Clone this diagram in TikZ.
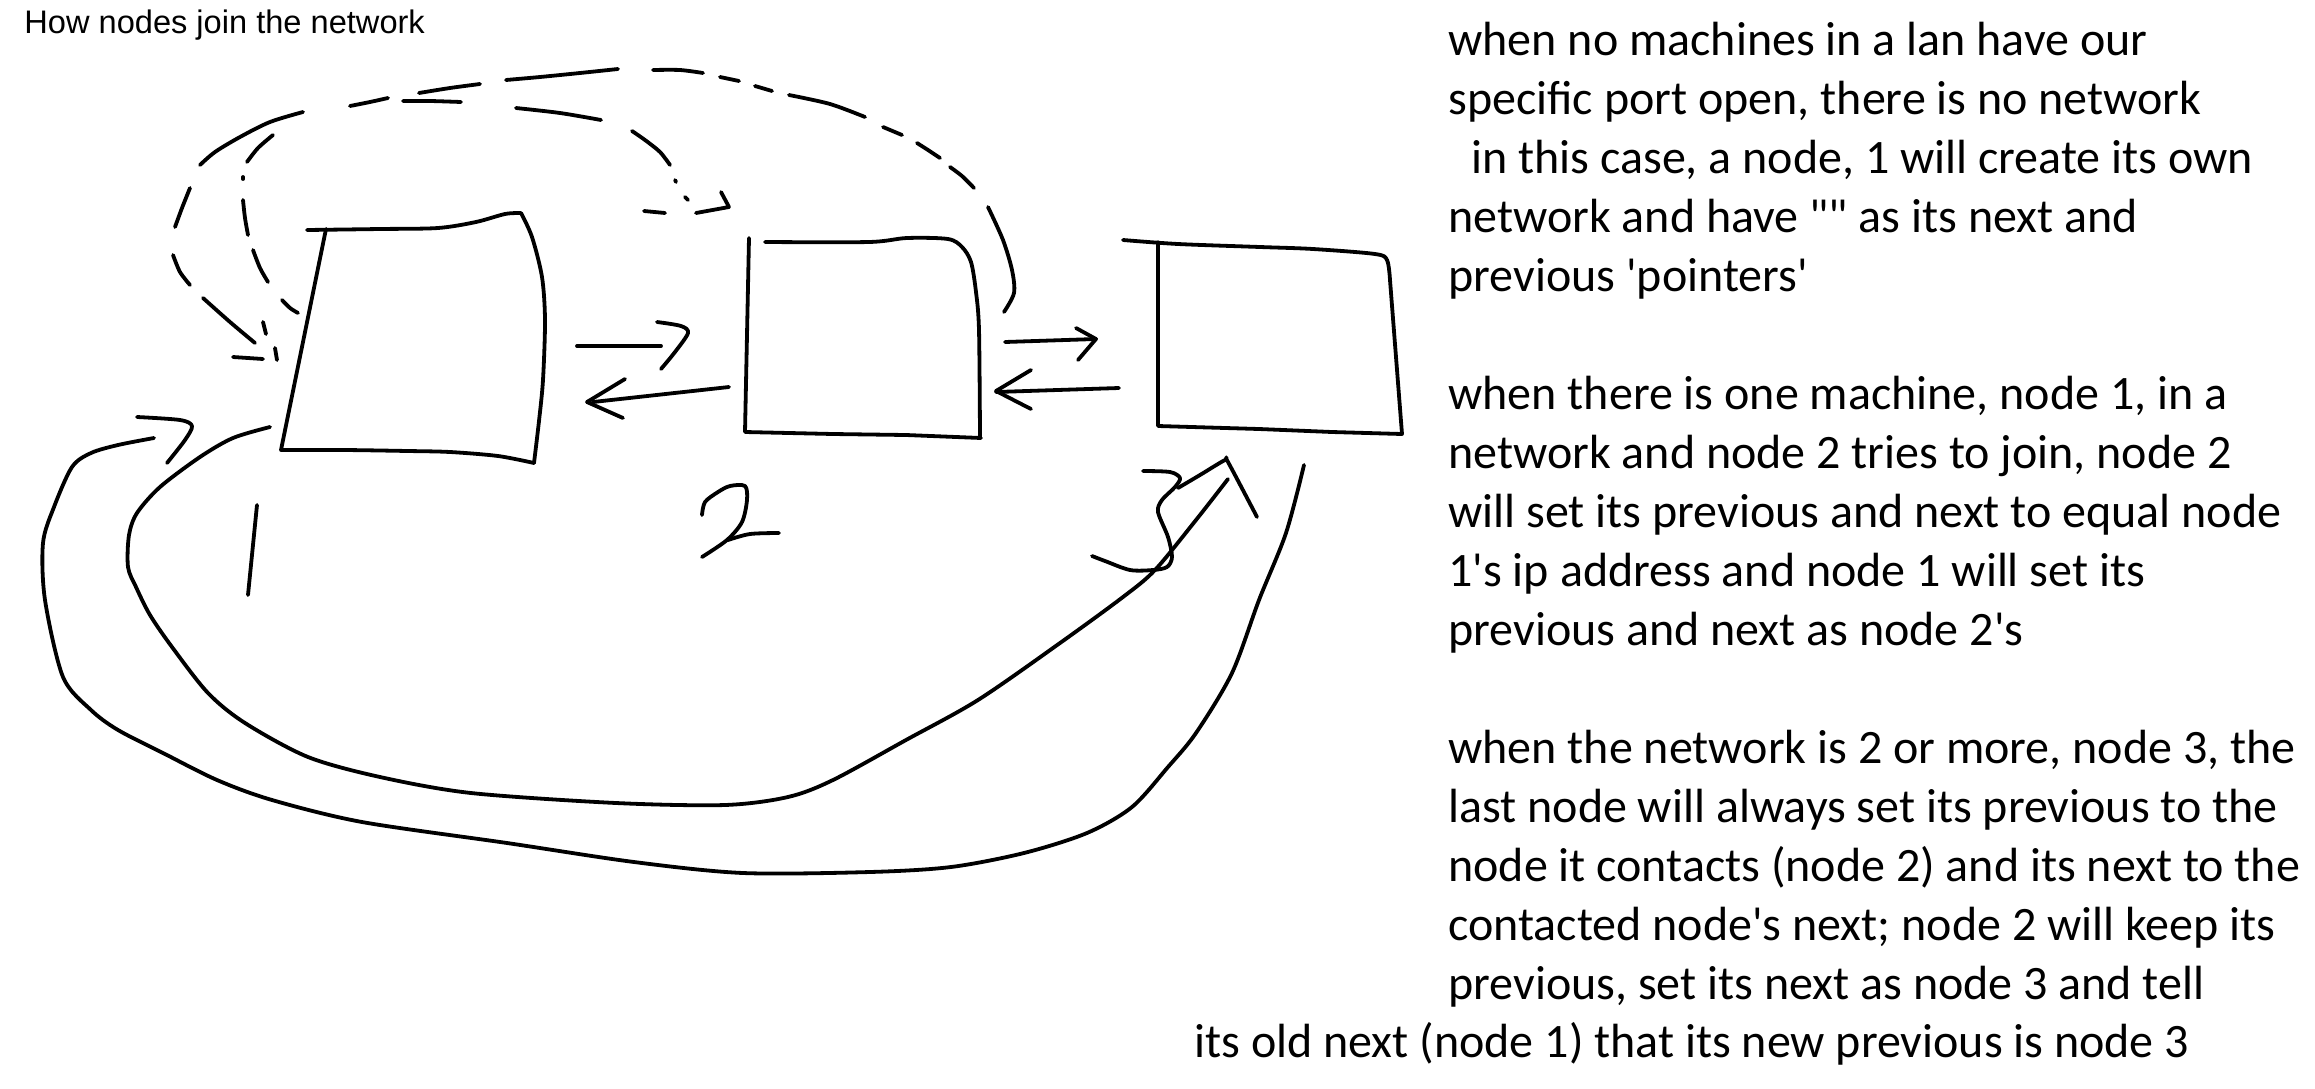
\documentclass[tikz,border=0pt]{standalone}
\usepackage{fontspec}
\newfontfamily\txtfont{Carlito}
\newfontfamily\titlefont{Liberation Sans}
\begin{document}
\begin{tikzpicture}[x=0.5pt,y=-0.5pt,line cap=round,line join=round,
  ink/.style={line width=1.9pt,black},
  txt/.style={anchor=base west,inner sep=0pt,font=\txtfont\fontsize{24}{29.5}\selectfont},
  ttl/.style={anchor=base west,inner sep=0pt,font=\titlefont\fontsize{16.3}{19}\selectfont},
  sm/.style={smooth,tension=.5}]
\useasboundingbox (0,0) rectangle (2315,1088);
\fill[white] (0,0) rectangle (2315,1088);

% title
\node[ttl] (title) at (24,33) {How nodes join the network};

% right-hand text
\node[txt] (l1) at (1448,55) {when no machines in a lan have our};
\node[txt] (l2) at (1448,114) {specific port open, there is no network};
\node[txt] (l3) at (1471,173) {in this case, a node, 1 will create its own};
\node[txt] (l4) at (1448,232) {network and have "" as its next and};
\node[txt] (l5) at (1448,291) {previous \textquotesingle pointers\textquotesingle};
\node[txt] (l6) at (1448,409) {when there is one machine, node 1, in a};
\node[txt] (l7) at (1448,468) {network and node 2 tries to join, node 2};
\node[txt] (l8) at (1448,527) {will set its previous and next to equal node};
\node[txt] (l9) at (1448,586) {1\textquotesingle s ip address and node 1 will set its};
\node[txt] (l10) at (1448,645) {previous and next as node 2\textquotesingle s};
\node[txt] (l11) at (1448,763) {when the network is 2 or more, node 3, the};
\node[txt] (l12) at (1448,822) {last node will always set its previous to the};
\node[txt] (l13) at (1448,881) {node it contacts (node 2) and its next to the};
\node[txt] (l14) at (1448,940) {contacted node\textquotesingle s next; node 2 will keep its};
\node[txt] (l15) at (1448,999) {previous, set its next as node 3 and tell};
\node[txt] (l16) at (1194,1057) {its old next (node 1) that its new previous is node 3};

% ---- boxes (hand drawn) ----
% box 1
\draw[ink] plot[sm] coordinates {(307,230) (380,229) (438,228) (476,222) (505,214) (521,213)};
\draw[ink] plot[sm] coordinates {(521,213) (532,237) (542,277) (545,320) (543,380) (539,421) (534,463)};
\draw[ink] plot[sm] coordinates {(534,463) (498,456) (450,452) (408,451) (344,450) (281,450)} -- (326,229);
% box 2
\draw[ink] (749,238) -- (745,432) -- (833,434) -- (906,435) -- (981,438);
\draw[ink] plot[sm] coordinates {(765,242) (869,242) (907,238) (948,239) (962,247) (971,262) (976,292) (979,330) (980,437)};
% box 3
\draw[ink] plot[sm] coordinates {(1123,240) (1178,244) (1260,247) (1313,249) (1375,254) (1387,260) (1390,280)} -- (1402,434) -- (1332,432) -- (1259,429) -- (1158,426) -- (1158,242);

% ---- connector end points ----
\coordinate (a12s) at (577,346); \coordinate (a12e) at (661,346);
\coordinate (a21s) at (729,387); \coordinate (a21e) at (593,402);
\coordinate (a23s) at (1005,342); \coordinate (a23e) at (1096,339);
\coordinate (a32s) at (1119,388); \coordinate (a32e) at (996,392);
\coordinate (dA2) at (1004,312); \coordinate (dA1) at (255,343);
\coordinate (dB1) at (298,313); \coordinate (dB2) at (688,200);
\coordinate (cC3) at (1304,465); \coordinate (cC1) at (154,438);
\coordinate (cD1) at (270,427); \coordinate (cD3) at (1228,479);

% ---- arrows between boxes ----
\draw[ink] (a12s) -- (a12e);
\draw[ink] plot[sm] coordinates {(657,322) (681,326) (688,333) (675,352) (661,369)};
\draw[ink] (a21s) -- (a21e);
\draw[ink] (625,379) -- (587,402) -- (623,418);
\draw[ink] (a23s) -- (a23e);
\draw[ink] (1076,328) -- (1096,339) -- (1078,360);
\draw[ink] (a32s) -- (a32e);
\draw[ink] (1031,370) -- (996,391) -- (1031,409);

% ---- dashed arc A: box 2 -> box 1 (outer) ----
\draw[ink] plot[sm] coordinates {(988,207) (1003,240) (1012,270) (1014,293) (dA2)};
\draw[ink] plot[sm] coordinates {(974,188) (962,176) (950,167)};
\draw[ink] plot[sm] coordinates {(940,158) (928,150) (917,143)};
\draw[ink] (902,135) -- (883,127);
\draw[ink] plot[sm] coordinates {(865,117) (830,104) (789,95)};
\draw[ink] (772,91) -- (755,86);
\draw[ink] (739,81) -- (720,77);
\draw[ink] plot[sm] coordinates {(703,73) (680,70) (653,70)};
\draw[ink] plot[sm] coordinates {(618,69) (580,73) (540,77) (506,80)};
\draw[ink] plot[sm] coordinates {(480,84) (450,88) (419,93)};
\draw[ink] plot[sm] coordinates {(388,98) (370,102) (350,106)};
\draw[ink] plot[sm] coordinates {(303,112) (270,122) (240,137) (215,152) (200,165)};
\draw[ink] plot[sm] coordinates {(190,188) (182,208) (175,227)};
\draw[ink] plot[sm] coordinates {(173,255) (180,272) (190,285)};
\draw[ink] plot[sm] coordinates {(203,298) (230,322) (dA1)};
\draw[ink] (263,322) -- (266,334);
\draw[ink] (275,348) -- (277,360);
\draw[ink] (233,357) -- (263,359);

% ---- dashed arc B: box 1 -> box 2 (inner) ----
\draw[ink] plot[sm] coordinates {(dB1) (290,308) (282,300)};
\draw[ink] plot[sm] coordinates {(268,282) (260,268) (253,250)};
\draw[ink] plot[sm] coordinates {(248,235) (245,218) (243,200)};
\draw[ink] (243,177) -- (243,179);
\draw[ink] plot[sm] coordinates {(247,162) (258,148) (273,135)};
\draw[ink] plot[sm] coordinates {(403,101) (430,101) (461,102)};
\draw[ink] plot[sm] coordinates {(516,108) (560,113) (601,120)};
\draw[ink] plot[sm] coordinates {(632,131) (645,140) (660,152) (670,165)};
\draw[ink] (675,180) -- (676,182);
\draw[ink] (685,197) -- (dB2);
\draw[ink] (721,192) -- (729,207) -- (696,213);
\draw[ink] (665,213) -- (644,211);

% ---- solid curve C: box 3 -> box 1 (outer) ----
\draw[ink] plot[sm] coordinates {(cC3) (1286,533) (1259,600) (1232,673) (1196,733) (1168,767) (1132,807) (1087,833) (1024,853) (951,867) (870,872) (743,873) (634,862) (507,843) (362,822) (272,800) (217,780) (163,753) (118,730) (91,710) (63,677) (45,600) (43,543) (54,507) (72,467) (91,453) (118,445) (cC1)};
\draw[ink] plot[sm] coordinates {(137,417) (180,420) (192,426) (185,440) (167,463)};

% ---- solid curve D: box 1 -> box 3 (inner) ----
\draw[ink] plot[sm] coordinates {(cD1) (233,438) (200,457) (160,487) (137,513) (129,535) (128,567) (136,587) (150,615) (172,647) (208,693) (245,723) (308,757) (380,777) (471,793) (616,803) (725,805) (788,797) (833,780) (906,740) (978,700) (1060,643) (1123,597) (1155,570) (1196,520) (cD3)};
\draw[ink] plot[sm] coordinates {(1178,488) (1200,475) (1225,460) (1228,462) (1257,517)};

% ---- hand written numbers ----
\draw[ink] (257,505) -- (248,595);
\draw[ink] plot[sm] coordinates {(702,515) (705,502) (718,492) (730,486) (745,486) (747,500) (742,522) (727,540) (702,557)};
\draw[ink] plot[sm] coordinates {(728,540) (750,534) (779,533)};
\draw[ink] plot[sm] coordinates {(1143,471) (1170,472) (1180,478) (1175,487) (1162,500) (1158,512) (1168,537) (1172,557) (1167,567) (1153,570) (1130,570) (1105,561) (1092,556)};
\end{tikzpicture}
\end{document}
